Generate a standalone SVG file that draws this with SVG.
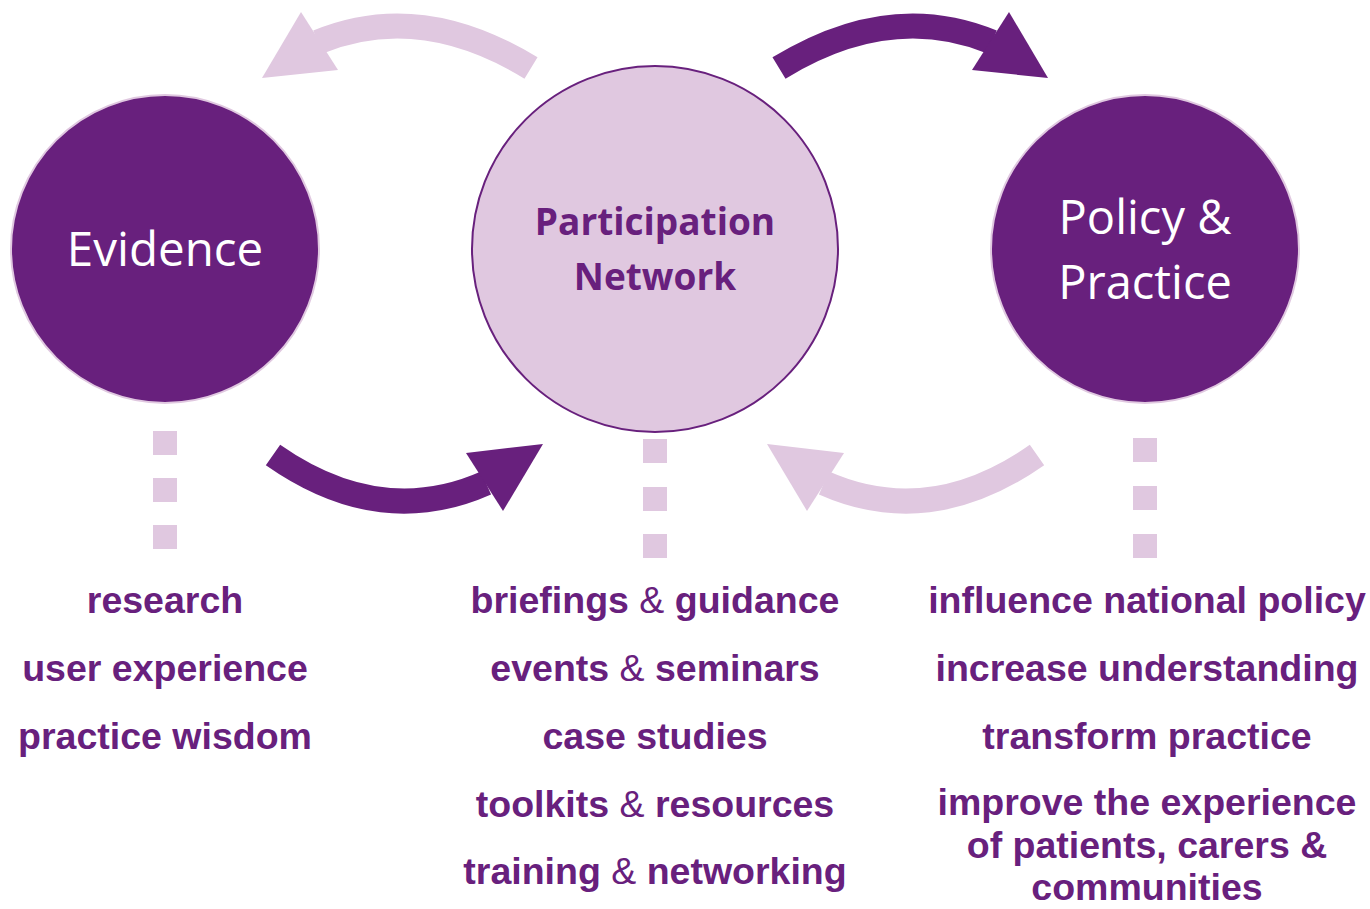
<svg xmlns="http://www.w3.org/2000/svg" width="1370" height="909" viewBox="0 0 1370 909">
<style>
.dark{fill:#68207d}
.light{fill:#e0c8e0}
.band-d{fill:none;stroke:#68207d;stroke-width:25}
.band-l{fill:none;stroke:#e0c8e0;stroke-width:25}
.lbl{font-family:"Open Sans","Noto Sans",sans-serif;text-anchor:middle}
.item{font-family:"Liberation Sans",Arial,sans-serif;font-weight:bold;font-size:37.5px;fill:#68207d;text-anchor:middle}
.amp{font-weight:normal}
</style>
<rect width="1370" height="909" fill="#ffffff"/>
<g id="connectors">
  <g id="arrow-pn-to-evidence">
    <path class="band-l" d="M531,68 Q420,0 318,42"/>
    <polygon class="light" points="301,12 262,78 338,70"/>
  </g>
  <g id="arrow-pn-to-policy">
    <path class="band-d" d="M779,68 Q890,0 992,42"/>
    <polygon class="dark" points="1009,12 1048,78 972,70"/>
  </g>
  <g id="arrow-evidence-to-pn">
    <path class="band-d" d="M273,455 Q380,530 486,483"/>
    <polygon class="dark" points="466,453 543,444 503,511"/>
  </g>
  <g id="arrow-policy-to-pn">
    <path class="band-l" d="M1037,455 Q930,530 824,483"/>
    <polygon class="light" points="844,453 767,444 807,511"/>
  </g>
  <g id="dots" class="light">
    <rect x="153" y="431" width="24" height="24"/>
    <rect x="153" y="478" width="24" height="24"/>
    <rect x="153" y="525" width="24" height="24"/>
    <rect x="643" y="439" width="24" height="24"/>
    <rect x="643" y="487" width="24" height="24"/>
    <rect x="643" y="534" width="24" height="24"/>
    <rect x="1133" y="438" width="24" height="24"/>
    <rect x="1133" y="486" width="24" height="24"/>
    <rect x="1133" y="534" width="24" height="24"/>
  </g>
</g>
<g id="node-evidence">
  <circle cx="165" cy="249" r="154" fill="#68207d" stroke="#e0c8e0" stroke-width="2"/>
  <text class="lbl" x="165" y="266" font-size="47.5" fill="#ffffff">Evidence</text>
</g>
<g id="node-participation">
  <circle cx="655" cy="249" r="183" fill="#e0c8e0" stroke="#68207d" stroke-width="2"/>
  <text class="lbl" x="655" y="235" font-size="37" font-weight="bold" fill="#68207d">Participation</text>
  <text class="lbl" x="655" y="290" font-size="37" font-weight="bold" fill="#68207d">Network</text>
</g>
<g id="node-policy">
  <circle cx="1145" cy="249" r="154" fill="#68207d" stroke="#e0c8e0" stroke-width="2"/>
  <text class="lbl" x="1145" y="234" font-size="47" fill="#ffffff">Policy &amp;</text>
  <text class="lbl" x="1145" y="299" font-size="47" fill="#ffffff">Practice</text>
</g>
<g id="evidence-items">
  <text class="item" x="165" y="613">research</text>
  <text class="item" x="165" y="681">user experience</text>
  <text class="item" x="165" y="749">practice wisdom</text>
</g>
<g id="participation-items">
  <text class="item" x="655" y="613">briefings <tspan class="amp">&amp;</tspan> guidance</text>
  <text class="item" x="655" y="681">events <tspan class="amp">&amp;</tspan> seminars</text>
  <text class="item" x="655" y="749">case studies</text>
  <text class="item" x="655" y="817">toolkits <tspan class="amp">&amp;</tspan> resources</text>
  <text class="item" x="655" y="884">training <tspan class="amp">&amp;</tspan> networking</text>
</g>
<g id="policy-items">
  <text class="item" x="1147" y="613">influence national policy</text>
  <text class="item" x="1147" y="681">increase understanding</text>
  <text class="item" x="1147" y="749">transform practice</text>
  <text class="item" x="1147" y="815">improve the experience</text>
  <text class="item" x="1147" y="858">of patients, carers &amp;</text>
  <text class="item" x="1147" y="900">communities</text>
</g>
</svg>
